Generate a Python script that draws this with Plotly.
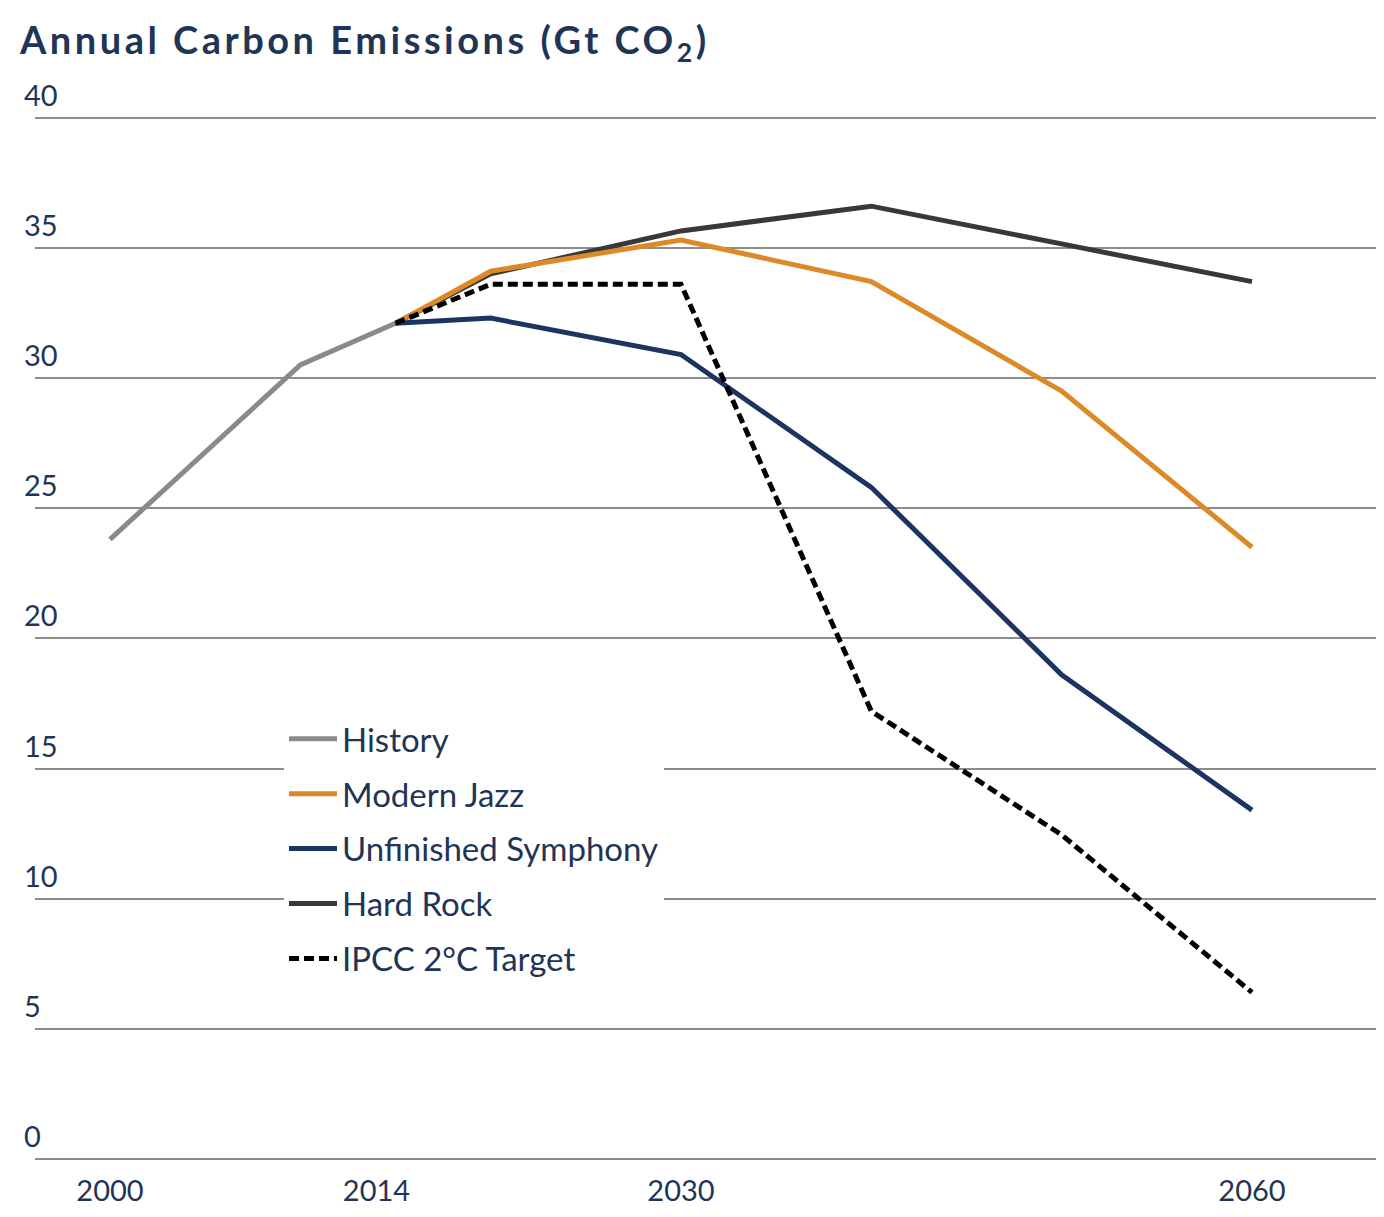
import plotly.graph_objects as go

# ---- data ----
history_years = [2000, 2010, 2015]
history = [23.8, 30.5, 32.1]

scenario_years = [2015, 2020, 2030, 2040, 2050, 2060]
modern_jazz = [32.1, 34.1, 35.3, 33.7, 29.5, 23.5]
unfinished_symphony = [32.1, 32.3, 30.9, 25.8, 18.6, 13.4]
hard_rock = [32.1, 34.0, 35.65, 36.6, 35.15, 33.7]
ipcc_target = [32.1, 33.6, 33.6, 17.2, 12.45, 6.4]

x_ticks = [2000, 2014, 2030, 2060]
y_ticks = [0, 5, 10, 15, 20, 25, 30, 35, 40]

NAVY_TEXT = "#1f3556"
FONT = "Lato, 'Open Sans', sans-serif"

# page has an 8px body margin, so the figure is laid out in a 1368x1201 box
W, H = 1368, 1201
PLOT_L, PLOT_R, PLOT_B = 27, 0, 50
Y_TOP = 41.6
PX_PER_UNIT = 26.025
PLOT_T = H - PLOT_B - Y_TOP * PX_PER_UNIT
PLOT_W = W - PLOT_L - PLOT_R
PX_PER_YEAR = 19.033
X_LEFT = 2000 - 75 / PX_PER_YEAR
X_RIGHT = X_LEFT + PLOT_W / PX_PER_YEAR
PLOT_H = H - PLOT_T - PLOT_B

fig = go.Figure()

series = [
    # (name, x, y, color, dash, rank)
    ("Hard Rock", scenario_years, hard_rock, "#383838", "solid", 4),
    ("History", history_years, history, "#8a8a8a", "solid", 1),
    ("Unfinished Symphony", scenario_years, unfinished_symphony, "#1b3461", "solid", 3),
    ("Modern Jazz", scenario_years, modern_jazz, "#dc8a28", "solid", 2),
    ("IPCC 2°C Target", scenario_years, ipcc_target, "#000000", "10px,5px", 5),
]

for name, xs, ys, color, dash, rank in series:
    fig.add_trace(go.Scatter(
        x=xs, y=ys, mode="lines", name=name,
        line=dict(color=color, width=5, dash=dash),
        legendrank=rank, legendgroup=name,
    ))

fig.update_layout(
    width=W, height=H,
    paper_bgcolor="white", plot_bgcolor="white",
    margin=dict(l=PLOT_L, r=PLOT_R, t=PLOT_T, b=PLOT_B, pad=0, autoexpand=False),
    font=dict(family=FONT, color=NAVY_TEXT),
    title=dict(
        text="<b><span style='letter-spacing:3.5px'>Annual Carbon Emissions (Gt CO<sub>2</sub>)</span></b>",
        x=12 / W, xanchor="left", xref="container",
        y=1 - 33 / H, yanchor="middle", yref="container",
        font=dict(size=38, color=NAVY_TEXT, family=FONT),
    ),
    xaxis=dict(
        range=[X_LEFT, X_RIGHT],
        tickvals=x_ticks, ticktext=[str(v) for v in x_ticks],
        showgrid=False, zeroline=False, automargin=False,
        showline=False, ticks="",
        ticklabelstandoff=12,
        tickfont=dict(size=29, color=NAVY_TEXT, family=FONT),
    ),
    yaxis=dict(
        range=[0, Y_TOP],
        tickvals=y_ticks, ticktext=[str(v) for v in y_ticks],
        showgrid=True, gridcolor="#8c8c8c", gridwidth=1.5,
        zeroline=True, zerolinecolor="#8c8c8c", zerolinewidth=2,
        showline=False, ticks="", automargin=False,
        ticklabelposition="inside",
        ticklabelshift=-22, ticklabelstandoff=-14,
        tickfont=dict(size=29, color=NAVY_TEXT, family=FONT),
    ),
    legend=dict(
        x=(276 - PLOT_L) / PLOT_W, y=(H - PLOT_B - 703) / PLOT_H,
        xanchor="left", yanchor="top",
        bgcolor="white", borderwidth=0,
        traceorder="grouped", tracegroupgap=9,
        font=dict(size=33, color=NAVY_TEXT, family=FONT),
        itemwidth=48,
    ),
    showlegend=True,
)

fig.write_html("out.html")
